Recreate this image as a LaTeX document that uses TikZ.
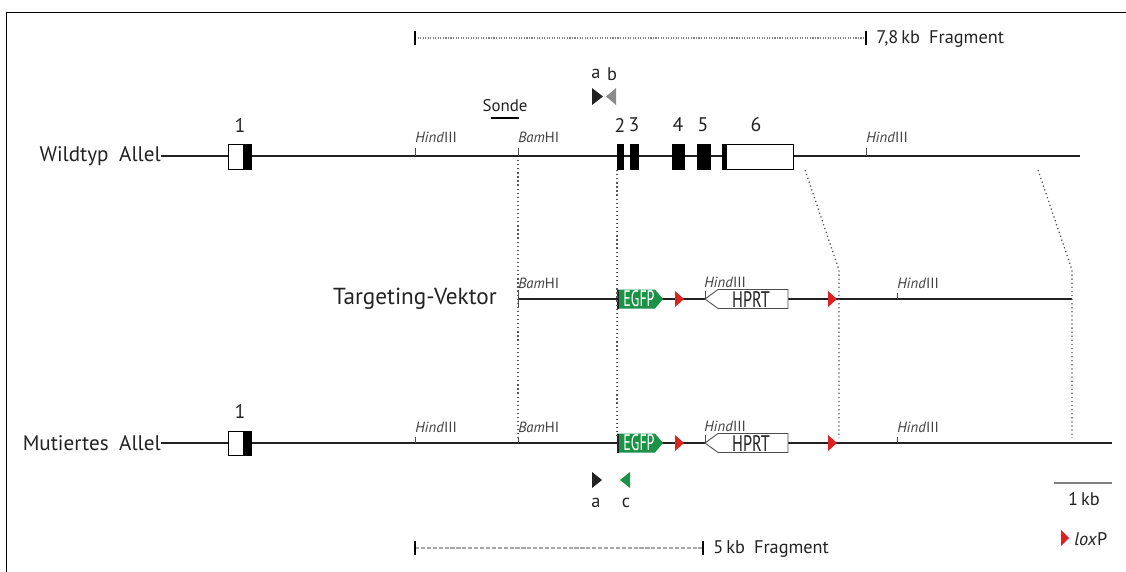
\documentclass[tikz,border=0pt]{standalone}
\usepackage{fontspec}
\setmainfont{PT Sans}
\usepackage{xcolor}
\usepackage{tikz}
\usetikzlibrary{positioning, arrows.meta}
\definecolor{egfpgruen}{HTML}{1C9148}
\definecolor{loxrot}{HTML}{DD2222}
\definecolor{primergrau}{HTML}{8A8A8A}
\definecolor{hilfsgrau}{HTML}{555555}
\definecolor{schrift}{HTML}{222222}
\newcommand{\hindIII}{\textit{Hind}III}
\newcommand{\bamHI}{\textit{Bam}HI}

\begin{document}
\begin{tikzpicture}[x=0.025cm, y=-0.025cm,
    every node/.style={inner sep=0pt, text=schrift},
    allel/.style={anchor=east, font=\fontsize{15}{17}\selectfont},
    enzym/.style={anchor=base west, font=\fontsize{10.5}{12}\selectfont, text=black!75},
    exonnr/.style={font=\fontsize{14}{16}\selectfont},
    klein/.style={font=\fontsize{13}{15}\selectfont},
    dna/.style={line width=1.4pt, schrift},
    schnitt/.style={line width=0.6pt, black!70},
    exon/.style={fill=black, draw=black, line width=0.6pt},
    leitlinie/.style={dotted, hilfsgrau, line width=0.9pt}
]
\useasboundingbox (0,0) rectangle (1126,572);
% Rahmen
\draw[line width=0.8pt] (1126,12.5) -- (6.5,12.5) -- (6.5,572);

% 7,8 kb Fragment
\coordinate (fa) at (415,38);
\coordinate (fb) at (866,38);
\draw[densely dotted, gray, line width=0.8pt] (fa) -- (fb);
\draw[line width=2pt] (415,31) -- (415,45);
\draw[line width=2pt] (866,31) -- (866,45);
\node[klein, anchor=west] (frag1) at (876,39) {7,8\,kb\enspace Fragment};

% Primer a b
\fill[schrift] (592,88) -- (603,96.5) -- (592,105) -- cycle;
\fill[primergrau] (616,88) -- (606,96.5) -- (616,105) -- cycle;
\node[klein] (pa) at (596,74) {a};
\node[klein] (pb) at (612,74) {b};

% Sonde
\node[font=\fontsize{12}{14}\selectfont] (sonde) at (505,106) {Sonde};
\draw[line width=2pt] (491,118) -- (519,118);

% Wildtyp
\node[allel] (wt) at (161,156) {Wildtyp\enspace Allel};
\draw[dna] (wt.east) -- (1080,156);
\draw[line width=0.7pt, fill=white] (228,144) rectangle (251,169);
\fill (243,144) rectangle (251,169);
\node[exonnr, font=\rmfamily\fontsize{14}{16}\selectfont] (wte1) at (240,125) {1};
\draw[exon] (617,144) rectangle (623,169);
\draw[exon] (630,144) rectangle (638,169);
\draw[exon] (672,144) rectangle (684,169);
\draw[exon] (697,144) rectangle (710,169);
\draw[exon] (722,144) rectangle (726,169);
\draw[line width=0.7pt, fill=white] (726,144) rectangle (793,169);
\node[exonnr] (wte2) at (620,125) {2};
\node[exonnr] (wte3) at (634,125) {3};
\node[exonnr] (wte4) at (678,125) {4};
\node[exonnr] (wte5) at (703,125) {5};
\node[exonnr] (wte6) at (756,125) {6};
\draw[schnitt] (415,148) -- (415,156);
\node[enzym] (wth1) at (415,142) {\hindIII};
\draw[schnitt] (518,148) -- (518,156);
\node[enzym] (wtb1) at (518,142) {\bamHI};
\draw[schnitt] (866,148) -- (866,156);
\node[enzym] (wth2) at (866,142) {\hindIII};

% Targeting-Vektor
\node[allel, font=\fontsize{16.5}{18}\selectfont] (tv) at (497,299) {Targeting-Vektor};
\draw[dna] (518,299) -- (1072,299);
\draw[schnitt] (518,291) -- (518,307);
\node[enzym] (tvb1) at (518,288) {\bamHI};

% Mutiertes Allel
\node[allel] (mu) at (161,443) {Mutiertes\enspace Allel};
\draw[dna] (mu.east) -- (1112,443);
\draw[line width=0.7pt, fill=white] (228,431) rectangle (251,455);
\fill (243,431) rectangle (251,455);
\node[exonnr, font=\rmfamily\fontsize{14}{16}\selectfont] (mue1) at (240,411) {1};
\draw[schnitt] (415,437) -- (415,443);
\node[enzym] (muh1) at (415,432) {\hindIII};
\draw[schnitt] (518,437) -- (518,443);
\node[enzym] (mub1) at (518,432) {\bamHI};

% Kassette EGFP - loxP - HPRT - loxP
\foreach \yy in {299,443} {
  \fill[egfpgruen] (617,\yy-9.5) -- (655,\yy-9.5) -- (663,\yy) -- (655,\yy+9.5) -- (617,\yy+9.5) -- cycle;
  \draw[line width=2pt, schrift] (618,\yy-9.5) -- (618,\yy+9.5);
  \node[text=white, font=\fontsize{16}{18}\selectfont] (egfp\yy) at (639,\yy) {\scalebox{0.62}[1]{EGFP}};
  \fill[loxrot] (675,\yy-8) -- (684,\yy) -- (675,\yy+8) -- cycle;
  \fill[loxrot] (828,\yy-8) -- (837,\yy) -- (828,\yy+8) -- cycle;
  \draw[line width=0.6pt, black!70, fill=white] (705,\yy) -- (718,\yy-9.5) -- (788,\yy-9.5) -- (788,\yy+9.5) -- (718,\yy+9.5) -- cycle;
  \node[font=\fontsize{16}{18}\selectfont] (hprt\yy) at (751,\yy+0.5) {\scalebox{0.72}[1]{HPRT}};
  \draw[schnitt] (705,\yy-8) -- (705,\yy);
  \node[enzym] (hinda\yy) at (704,\yy-12) {\hindIII};
  \draw[schnitt] (897,\yy-6) -- (897,\yy);
  \node[enzym] (hindb\yy) at (897,\yy-11) {\hindIII};
}

% Leitlinien
\coordinate (l1a) at (518,160);  \coordinate (l1b) at (518,438);
\coordinate (l2a) at (617,170);  \coordinate (l2b) at (617,438);
\coordinate (l3a) at (805,170);  \coordinate (l3k) at (839,270);  \coordinate (l3b) at (839,438);
\coordinate (l4a) at (1038,170); \coordinate (l4k) at (1072,270); \coordinate (l4b) at (1072,438);
\draw[leitlinie] (l1a) -- (l1b);
\draw[leitlinie] (l2a) -- (l2b);
\draw[leitlinie] (l3a) -- (l3k) -- (l3b);
\draw[leitlinie] (l4a) -- (l4k) -- (l4b);

% Primer a c
\fill[schrift] (592,472) -- (602,480) -- (592,488) -- cycle;
\fill[egfpgruen] (630,472) -- (620,480) -- (630,488) -- cycle;
\node[klein] (ma) at (596,503) {a};
\node[klein] (mc) at (626,503) {c};

% Massstab und Legende
\draw[gray, line width=1.2pt] (1054,483) -- (1112,483);
\node[klein] (kb) at (1084,499) {1\,kb};
\fill[loxrot] (1061,530) -- (1069,538) -- (1061,546) -- cycle;
\node[klein, anchor=west] (lox) at (1074,539) {\textit{lox}P};

% 5 kb Fragment
\draw[dash pattern=on 3pt off 1.2pt, gray!70, line width=0.8pt] (415,548) -- (703,548);
\draw[line width=2pt] (415,541) -- (415,555);
\draw[line width=2pt] (703,541) -- (703,555);
\node[klein, anchor=west] (frag2) at (713,549) {5\,kb\enspace Fragment};
\end{tikzpicture}
\end{document}
